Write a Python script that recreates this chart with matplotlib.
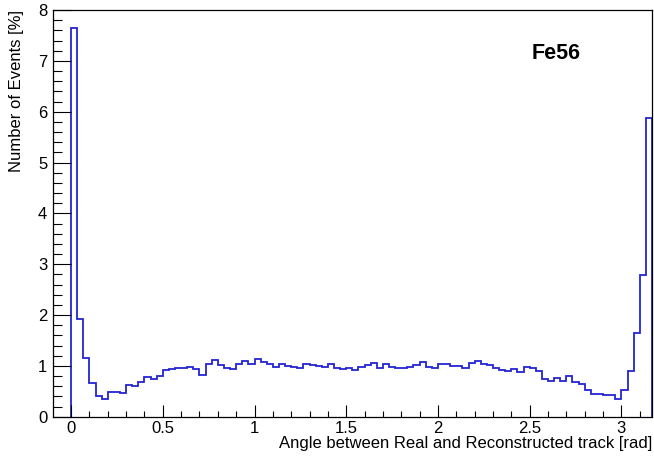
import numpy as np
import matplotlib
matplotlib.use("Agg")
import matplotlib.pyplot as plt

# angle histogram, 1/30 rad bins starting at 0, values in percent of events
bin_width = 1.0 / 30.0
fraction = [
    7.65, 1.92, 1.16, 0.66, 0.40, 0.34, 0.49, 0.49, 0.47, 0.63,
    0.61, 0.68, 0.78, 0.74, 0.81, 0.91, 0.93, 0.95, 0.95, 0.97,
    0.93, 0.82, 1.03, 1.12, 1.02, 0.96, 0.93, 1.03, 1.10, 1.04,
    1.14, 1.08, 1.03, 0.98, 1.04, 1.00, 0.98, 0.95, 1.04, 1.02,
    1.00, 0.98, 1.03, 0.95, 0.93, 0.96, 0.92, 0.98, 1.02, 1.06,
    0.95, 1.04, 0.98, 0.95, 0.95, 0.98, 1.02, 1.08, 0.98, 0.95,
    1.04, 1.04, 1.00, 1.00, 0.95, 1.06, 1.10, 1.04, 1.02, 0.95,
    0.92, 0.89, 0.94, 0.87, 0.98, 0.95, 0.89, 0.74, 0.70, 0.76,
    0.70, 0.80, 0.68, 0.64, 0.53, 0.45, 0.45, 0.42, 0.42, 0.34,
    0.53, 0.89, 1.64, 2.79, 5.87,
]
xticks = [0, 0.5, 1, 1.5, 2, 2.5, 3]
xticklabels = ["0", "0.5", "1", "1.5", "2", "2.5", "3"]
yticks = [0, 1, 2, 3, 4, 5, 6, 7, 8]

plt.rcParams["font.family"] = ["Liberation Sans", "DejaVu Sans"]

edges = np.arange(len(fraction) + 1) * bin_width

fig = plt.figure(figsize=(6.54, 4.59), dpi=100)
ax = fig.add_axes([0.0806, 0.0922, 0.9163, 0.8860])

ax.stairs(fraction, edges, baseline=0, color="#2424d4", lw=1.3)

ax.set_xlim(-0.1, edges[-1])
ax.set_ylim(0, 8)
ax.set_xticks(xticks)
ax.set_xticklabels(xticklabels)
ax.set_xticks(np.arange(0, 3.2, 0.1), minor=True)
ax.set_yticks(yticks)
ax.set_yticks(np.arange(0, 8.01, 0.2), minor=True)

ax.tick_params(axis="both", which="both", direction="in", width=0.8,
               labelsize=12, top=False, right=False)
ax.tick_params(axis="x", which="major", length=8.8, pad=3)
ax.tick_params(axis="x", which="minor", length=4.6)
ax.tick_params(axis="y", which="major", length=13, pad=4)
ax.tick_params(axis="y", which="minor", length=6.5)
for sp in ax.spines.values():
    sp.set_linewidth(0.9)

ax.set_xlabel("Angle between Real and Reconstructed track [rad]", fontsize=12, loc="right")
ax.xaxis.set_label_coords(1.0, -0.047)
ax.set_ylabel("Number of Events [%]", fontsize=12, loc="top")
ax.yaxis.set_label_coords(-0.048, 1.0)

ax.text(0.799, 0.879, "Fe56", transform=ax.transAxes, fontsize=15.5,
        fontweight="bold", ha="left", va="baseline")

fig.savefig("out.png", dpi=100)
